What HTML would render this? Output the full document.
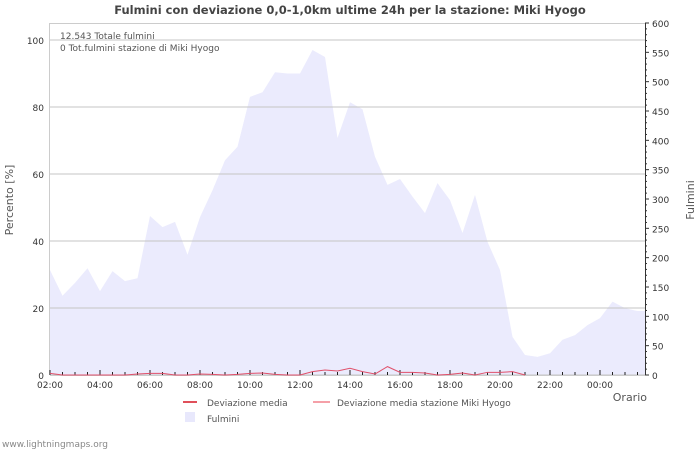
<!DOCTYPE html>
<html><head><meta charset="utf-8"><style>
body{margin:0;background:#fff;font-family:"Liberation Sans","DejaVu Sans",sans-serif}
svg text{font-family:"DejaVu Sans","Liberation Sans",sans-serif}
</style></head><body>
<svg id="c" width="700" height="450">
<text x="350" y="14" text-anchor="middle" font-size="11.5" font-weight="bold" fill="#444">Fulmini con deviazione 0,0-1,0km ultime 24h per la stazione: Miki Hyogo</text>
<g id="plot"></g>
<text x="60" y="39" font-size="9" fill="#555">12.543 Totale fulmini</text>
<text x="60" y="51" font-size="9" fill="#555">0 Tot.fulmini stazione di Miki Hyogo</text>
<text x="13" y="200" font-size="11" fill="#555" text-anchor="middle" transform="rotate(-90 13 200)">Percento   [%]</text>
<text x="694" y="200" font-size="11" fill="#555" text-anchor="middle" transform="rotate(-90 694 200)">Fulmini</text>
<text x="647" y="401" font-size="11" fill="#555" text-anchor="end">Orario</text>
<g>
<line x1="183" y1="402" x2="197" y2="402" stroke="#e0505a" stroke-width="2"/>
<text x="207" y="406" font-size="9" fill="#555">Deviazione media</text>
<line x1="313" y1="402" x2="330" y2="402" stroke="#f5a0a8" stroke-width="2"/>
<text x="337" y="406" font-size="9" fill="#555">Deviazione media stazione Miki Hyogo</text>
<rect x="185" y="412" width="10" height="10" fill="#e8e8fc"/>
<text x="207" y="422" font-size="9" fill="#555">Fulmini</text>
</g>
<text x="2" y="447" font-size="9" fill="#888">www.lightningmaps.org</text>
</svg>
<script>
const fulmini=[179,135,157,182,143,177,160,165,271,252,261,205,269,315,366,389,474,482,516,514,514,554,542,404,465,453,372,324,334,304,276,327,298,242,307,227,179,65,34,31,37,60,68,85,97,125,114,109];
const deviazione=[0.5,0,0,0,0,0,0,0.3,0.5,0.5,0,0,0.3,0.2,0,0.2,0.5,0.6,0.2,0,0,1,1.5,1.2,2,1,0.3,2.5,0.8,0.8,0.6,0,0.2,0.6,0,0.8,0.8,1.0,0];
const xLabels=["02:00","04:00","06:00","08:00","10:00","12:00","14:00","16:00","18:00","20:00","22:00","00:00"];
const leftTicks=[0,20,40,60,80,100];
const rightTicks=[0,50,100,150,200,250,300,350,400,450,500,550,600];
const X0=50,X1=645,Y0=375;
const x=i=>X0+i*12.5;
const yL=v=>Y0-v*3.35;
const yR=v=>Y0-v*352/600;
const g=document.getElementById('plot');
const NS='http://www.w3.org/2000/svg';
function mk(t,a){const e=document.createElementNS(NS,t);for(const k in a)e.setAttribute(k,a[k]);g.appendChild(e);return e;}
let d=`M${X0},${Y0}`;fulmini.forEach((v,i)=>d+=` L${x(i)},${yR(v)}`);
d+=` L${X1},${yR(fulmini[fulmini.length-1])} L${X1},${Y0} Z`;
const area=mk('path',{d:d,fill:'#ebebfd'});


leftTicks.forEach(v=>{const l=mk('line',{x1:X0,x2:X1,y1:yL(v),y2:yL(v),stroke:'#c4c4c4','stroke-width':1});


const t=mk('text',{x:44,y:yL(v)+4,'font-size':9,'text-anchor':'end',fill:'#333'});t.textContent=v;

});
mk('line',{x1:X0,x2:X1,y1:23.5,y2:23.5,stroke:'#ccc'});
mk('line',{x1:X0-0.5,x2:X0-0.5,y1:23,y2:Y0,stroke:'#ccc'});
mk('line',{x1:X1+0.5,x2:X1+0.5,y1:23,y2:Y0,stroke:'#333'});
mk('line',{x1:X0,x2:X1,y1:Y0+0.5,y2:Y0+0.5,stroke:'#ccc'});
for(let v=0;v<=600;v+=10){mk('line',{x1:X1,x2:X1+(v%50?2:4),y1:yR(v),y2:yR(v),stroke:'#333'});}
rightTicks.forEach(v=>{const t=mk('text',{x:652,y:yR(v)+4,'font-size':9,fill:'#333'});t.textContent=v;

});
for(let i=0;i<48;i++){mk('line',{x1:x(i),x2:x(i),y1:Y0,y2:Y0-(i%4==0?5:3),stroke:'#222'});}
xLabels.forEach((s,i)=>{const t=mk('text',{x:X0+i*50,y:388,'font-size':9,'text-anchor':'middle',fill:'#333'});t.textContent=s;

});
const pl=mk('polyline',{points:deviazione.map((v,i)=>x(i)+','+yL(v)).join(' '),fill:'none',stroke:'#e0506a','stroke-width':1});


</script>
</body></html>
